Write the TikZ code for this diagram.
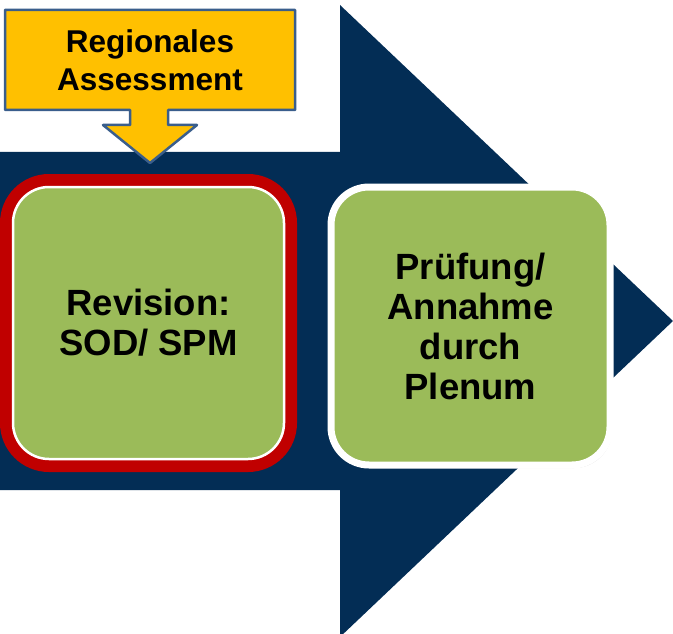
\documentclass[tikz,border=0pt]{standalone}
\usepackage{fontspec}
\setmainfont{Liberation Sans}
\usetikzlibrary{shadows}

\definecolor{navy}{RGB}{3,45,85}
\definecolor{boxgreen}{RGB}{155,187,89}
\definecolor{boxred}{RGB}{192,0,0}
\definecolor{calloutyellow}{RGB}{255,192,0}
\definecolor{calloutblue}{RGB}{58,94,140}

\begin{document}
\begin{tikzpicture}[x=1pt, y=-1pt,
    stage/.style={rectangle, rounded corners=36pt, fill=boxgreen, draw=white,
        align=center, inner sep=0pt, text=black,
        font=\bfseries\fontsize{36.5}{40}\selectfont}]
    % Background and frame
    \fill[white] (0,0) rectangle (673,634);
    \useasboundingbox (0,0) rectangle (673,634);

    % Big process arrow
    \fill[navy] (0,152) -- (340,152) -- (340,5) -- (673,321)
        -- (340,637) -- (340,490) -- (0,490) -- cycle;

    % Stages
    \node[stage, line width=2.5pt, minimum width=271pt, minimum height=272pt,
        preaction={draw=boxred, line width=26pt}]
        (revision) at (148.5,323) {Revision:\\SOD/ SPM};
    \node[stage, line width=7pt, rounded corners=38pt, minimum width=279pt, minimum height=278pt,
        drop shadow={opacity=0.25, shadow xshift=2pt, shadow yshift=-3pt}]
        (plenum) at (470.5,326) {Prüfung/\\Annahme\\durch\\Plenum};

    % Callout
    \draw[fill=calloutyellow, draw=calloutblue, line width=2.5pt, line join=round]
        (5,10) -- (295,10) -- (295,110) -- (168,110) -- (168,125) -- (197,125)
        -- (150,163) -- (103,125) -- (130,125) -- (130,110) -- (5,110) -- cycle;
    \node[align=center, font=\bfseries\fontsize{31.5}{38}\selectfont]
        (regional) at (150,60) {Regionales\\Assessment};
\end{tikzpicture}
\end{document}
